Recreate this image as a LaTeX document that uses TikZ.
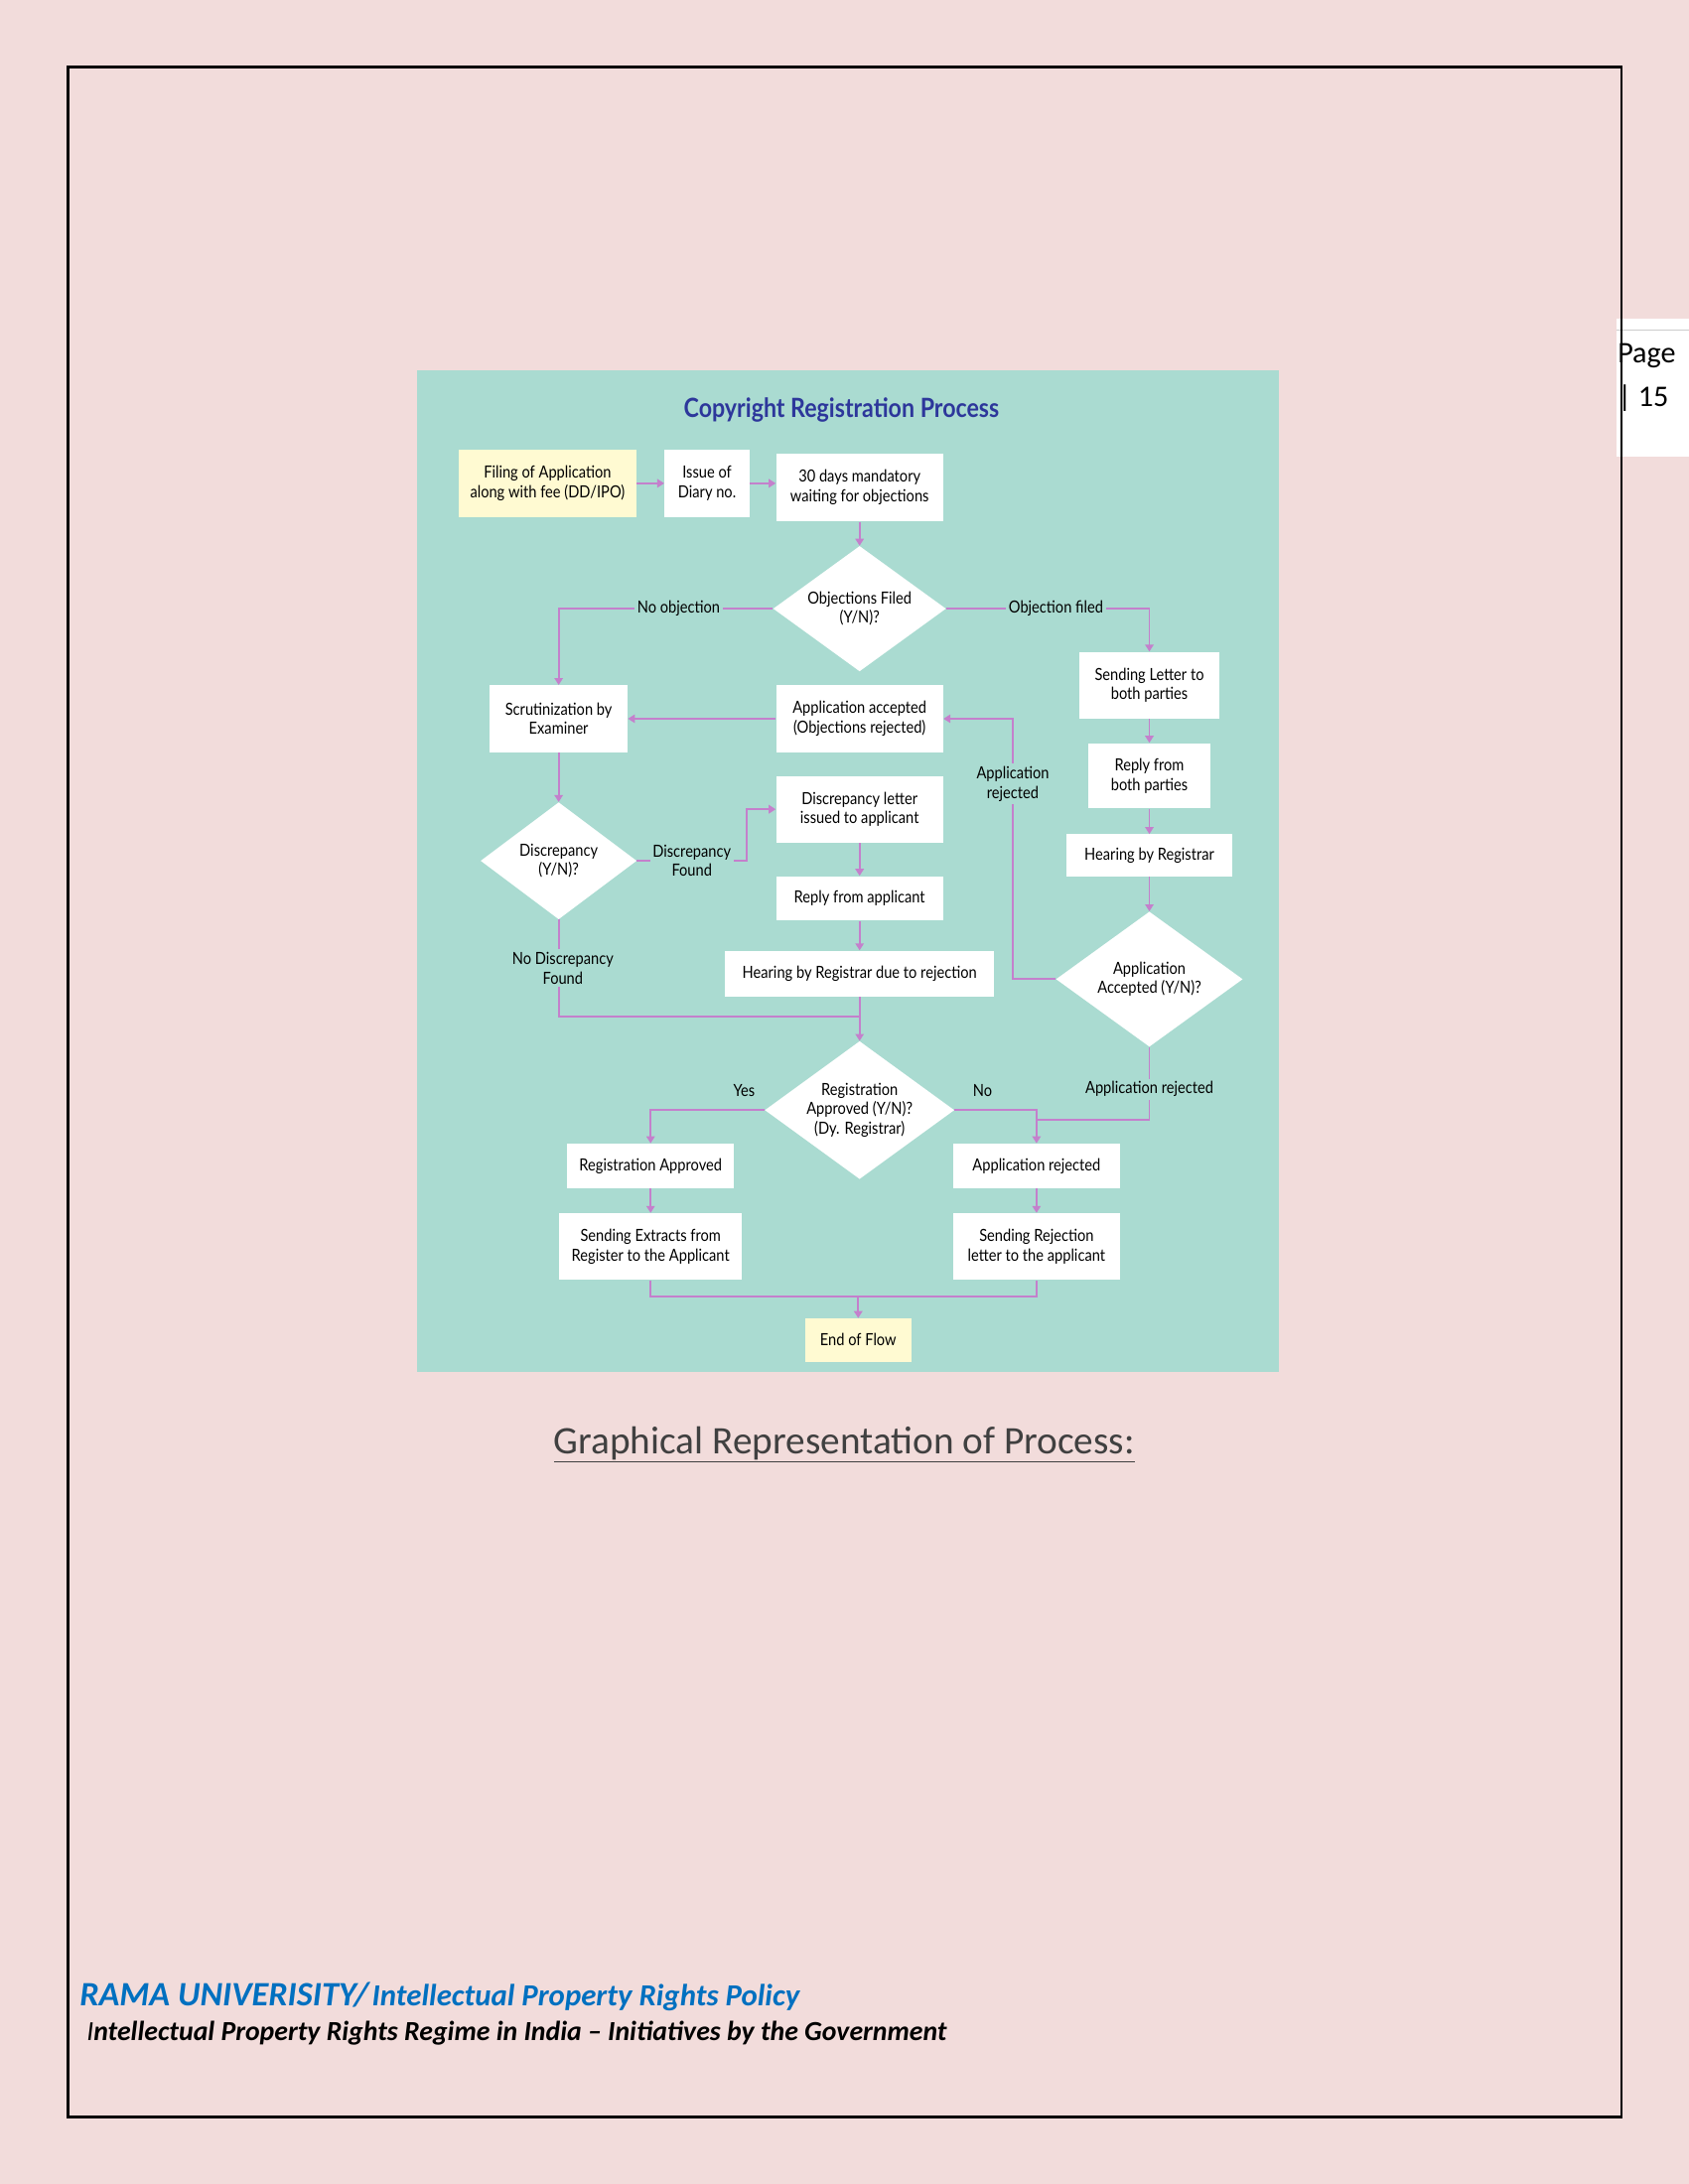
\documentclass[tikz,border=0pt]{standalone}
\usepackage{fontspec}
\setmainfont{Carlito}
\newfontfamily\flowfont[FakeStretch=0.87]{Lato}
\usetikzlibrary{shapes.geometric,arrows.meta}
\definecolor{pagepink}{RGB}{242,220,219}
\definecolor{tealbg}{RGB}{170,219,209}
\definecolor{arrowpink}{RGB}{196,128,204}
\definecolor{titleblue}{RGB}{45,55,155}
\definecolor{cream}{RGB}{255,250,210}
\definecolor{footblue}{RGB}{0,112,192}
\definecolor{capgray}{RGB}{64,64,64}
\newcommand{\flowtext}{\flowfont\fontsize{12}{14}\selectfont}

\begin{document}
\begin{tikzpicture}[x=1pt,y=-1pt,
  box/.style={fill=white,inner sep=0pt,align=center,font=\flowtext},
  ask/.style={diamond,aspect=1.38,fill=white,inner sep=0pt,align=center,font=\flowtext},
  flow/.style={draw=arrowpink,line width=1.3pt,-{Triangle[length=5pt,width=6pt]}},
  link/.style={draw=arrowpink,line width=1.3pt},
  lbl/.style={fill=tealbg,inner sep=2pt,align=center,font=\flowtext},
  note/.style={inner sep=1pt,font=\flowtext}]
  \useasboundingbox (0,0) rectangle (1212,1568);
  \fill[pagepink] (0,0) rectangle (1212,1568);

  % page number tab
  \fill[white] (1160,229) rectangle (1212,328);
  \draw[black!20] (1160,237) -- (1212,237);
  \node (pageno) [anchor=west,align=left,inner sep=0pt,font=\fontsize{21.5}{31}\selectfont] at (1161,271) {Page\\| 15};
  \draw[line width=1.8pt] (49,48) rectangle (1164,1520);

  \fill[tealbg] (299,266) rectangle (918,985);
  \node (title) [text=titleblue,font=\flowfont\fontsize{19}{22}\selectfont\bfseries] at (604,294) {Copyright Registration Process};

  \node (filing) [box,fill=cream,minimum width=128pt,minimum height=48pt] at (393,347) {Filing of Application\\along with fee (DD/IPO)};
  \node (diary) [box,minimum width=61pt,minimum height=48pt] at (507.5,347) {Issue of\\Diary no.};
  \node (wait) [box,minimum width=120pt,minimum height=49pt] at (617,350) {30 days mandatory\\waiting for objections};
  \node (objfiled) [ask,minimum width=124pt,minimum height=90pt] at (617,437) {Objections Filed\\(Y/N)?};

  \node (scrutiny) [box,minimum width=99pt,minimum height=48pt] at (401,516) {Scrutinization by\\Examiner};
  \node (accepted) [box,minimum width=120pt,minimum height=48pt] at (617,516) {Application accepted\\(Objections rejected)};
  \node (letter) [box,minimum width=100pt,minimum height=48pt] at (825,492) {Sending Letter to\\both parties};
  \node (replyboth) [box,minimum width=88pt,minimum height=47pt] at (825,557) {Reply from\\both parties};
  \node (hearing) [box,minimum width=119pt,minimum height=30pt] at (825,614) {Hearing by Registrar};
  \node (appdecide) [ask,minimum width=134pt,minimum height=97pt] at (825,703) {Application\\Accepted (Y/N)?};

  \node (discdecide) [ask,minimum width=112pt,minimum height=84pt] at (401,618) {Discrepancy\\(Y/N)?};
  \node (discletter) [box,minimum width=120pt,minimum height=48pt] at (617,581) {Discrepancy letter\\issued to applicant};
  \node (replyapp) [box,minimum width=120pt,minimum height=32pt] at (617,645) {Reply from applicant};
  \node (hearrej) [box,minimum width=193pt,minimum height=33pt] at (617,699) {Hearing by Registrar due to rejection};

  \node (regdecide) [ask,minimum width=136pt,minimum height=99pt] at (617,797) {Registration\\Approved (Y/N)?\\(Dy. Registrar)};
  \node (regok) [box,minimum width=120pt,minimum height=32pt] at (467,837) {Registration Approved};
  \node (regno) [box,minimum width=120pt,minimum height=32pt] at (744,837) {Application rejected};
  \node (extracts) [box,minimum width=131pt,minimum height=48pt] at (467,895) {Sending Extracts from\\Register to the Applicant};
  \node (rejletter) [box,minimum width=120pt,minimum height=48pt] at (744,895) {Sending Rejection\\letter to the applicant};
  \node (endflow) [box,fill=cream,minimum width=76pt,minimum height=31pt] at (616,962) {End of Flow};

  \coordinate (dfturn) at (536,618);
  \coordinate (rejturn) at (727,703);
  \coordinate (nodisc) at (617,730);
  \coordinate (nojoin) at (744,804);
  \coordinate (endjoin) at (616,931);

  \draw [flow] (filing) -- (diary);
  \draw [flow] (diary.east) -- (diary.east -| wait.west);
  \draw [flow] (wait) -- (objfiled);
  \draw [flow] (objfiled.west) -| node[lbl,pos=0.22] {No objection} (scrutiny.north);
  \draw [flow] (objfiled.east) -| node[lbl,pos=0.27] {Objection filed} (letter.north);

  \draw [flow] (accepted) -- (scrutiny);
  \draw [flow] (letter) -- (replyboth);
  \draw [flow] (replyboth) -- (hearing);
  \draw [flow] (hearing) -- (appdecide);
  \draw [flow] (appdecide.west) -- (rejturn) -- node[lbl,pos=0.75] {Application\\rejected} (rejturn |- accepted.east) -- (accepted.east);

  \draw [flow] (scrutiny) -- (discdecide);
  \draw [flow] (discdecide.east) -- node[lbl] {Discrepancy\\Found} (dfturn) |- (discletter.west);
  \draw [flow] (discletter) -- (replyapp);
  \draw [flow] (replyapp) -- (hearrej);
  \draw [link] (discdecide.south) |- node[lbl,pos=0.25,xshift=3pt] {No Discrepancy\\Found} (nodisc);
  \draw [flow] (hearrej) -- (regdecide);

  \draw [flow] (regdecide.west) -| node[note,pos=0.09,above=8pt] {Yes} (regok.north);
  \draw [flow] (regdecide.east) -| node[note,pos=0.17,above=8pt] {No} (regno.north);
  \draw [link] (appdecide.south) |- node[lbl,pos=0.29] {Application rejected} (nojoin);
  \draw [flow] (regok) -- (extracts);
  \draw [flow] (regno) -- (rejletter);
  \draw [link] (extracts.south) |- (endjoin) -| (rejletter.south);
  \draw [flow] (endjoin) -- (endflow);

  \node (caption) [text=capgray,font=\fontsize{28}{32}\selectfont] at (606,1037) {\underline{Graphical Representation of Process:}};
  \node (uni) [anchor=base west,inner sep=0pt,text=footblue,font=\bfseries\itshape] at (57,1440) {{\fontsize{24.5}{28}\selectfont RAMA UNIVERISITY/} {\fontsize{22}{28}\selectfont Intellectual Property Rights Policy}};
  \node (regime) [anchor=base west,inner sep=0pt,font=\fontsize{19.8}{24}\selectfont\bfseries\itshape] at (62,1465) {{\mdseries I}ntellectual Property Rights Regime in India – Initiatives by the Government};
\end{tikzpicture}
\end{document}
